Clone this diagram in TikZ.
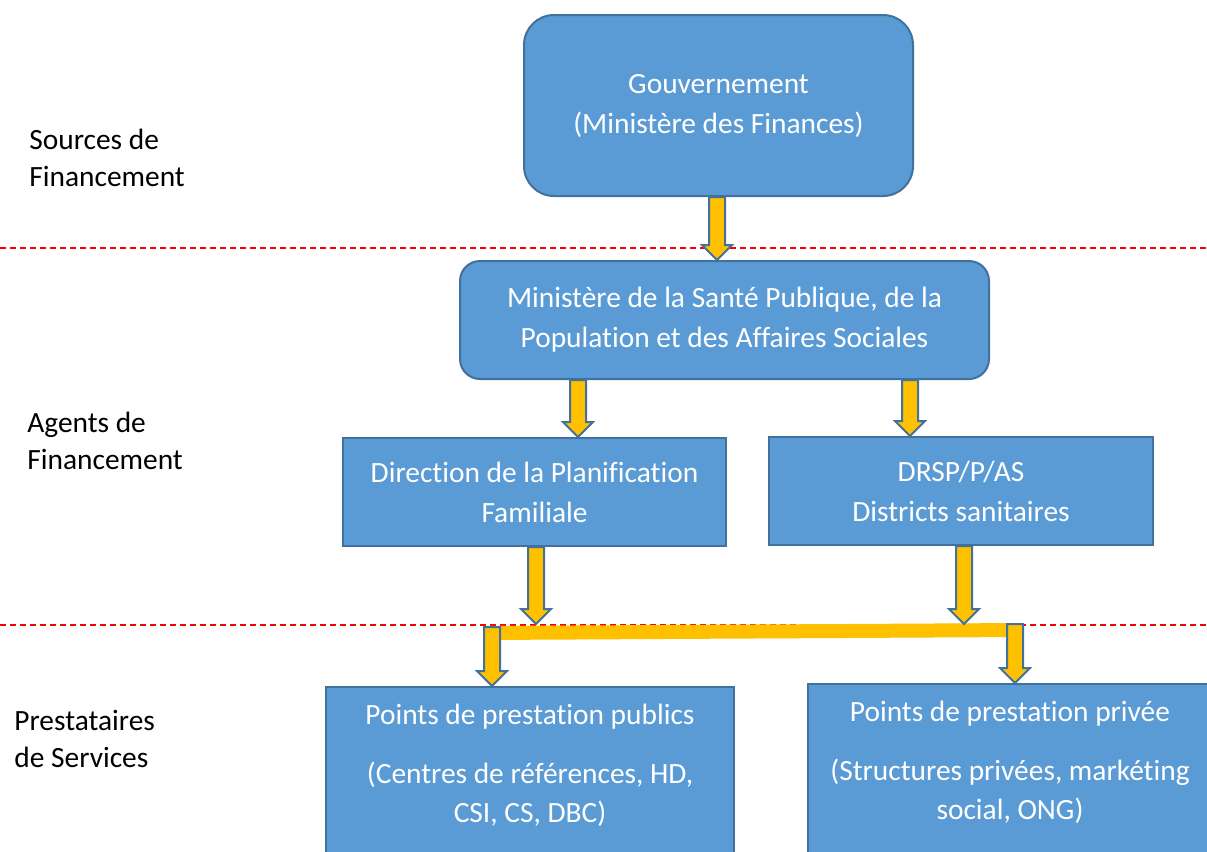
\documentclass[tikz,border=0pt]{standalone}
\usepackage{fontspec}
\setmainfont{Carlito}[Ligatures=NoCommon]
\usetikzlibrary{calc}

\definecolor{boxblue}{HTML}{5B9BD5}
\definecolor{boxline}{HTML}{41719C}
\definecolor{flowgold}{HTML}{FFC000}

% block arrow pointing down, from #1 to #2
\newcommand{\flowarrow}[2]{%
  \path[flow] let \p1=(#1), \p2=(#2) in
    (\x1-4pt,\y1) -- (\x1-4pt,\y2+7.5pt) -- (\x1-7.5pt,\y2+7.5pt) -- (\x2,\y2)
    -- (\x1+7.5pt,\y2+7.5pt) -- (\x1+4pt,\y2+7.5pt) -- (\x1+4pt,\y1) -- cycle;}

\tikzset{
  box/.style={draw=boxline,fill=boxblue,line width=1pt,text=white,align=center,
    inner sep=0pt,font=\fontsize{14.7}{20}\selectfont},
  roundbox/.style={box,rounded corners=#1},
  boxtext/.style={text=white,align=center,inner sep=0pt,font=\fontsize{14.7}{19.5}\selectfont},
  lbl/.style={align=left,inner sep=0pt,anchor=west,font=\fontsize{14.7}{18.5}\selectfont},
  flow/.style={draw=boxline,fill=flowgold,line width=1pt,line join=miter},
  bar/.style={draw=flowgold,line width=7pt},
  sep/.style={draw=red,line width=0.6pt,dash pattern=on 3pt off 2pt}
}

\begin{document}
\begin{tikzpicture}[x=0.5pt,y=-0.5pt]
  \clip (0,0) rectangle (1207,852);
  \fill[white] (0,0) rectangle (1207,852);

  % separators
  \draw[sep] (0,248) -- (1207,248);
  \draw[sep] (0,625) -- (1207,625);

  % level labels
  \node[lbl] (src) at (29,158) {Sources de\\Financement};
  \node[lbl] (agt) at (27,441) {Agents de\\Financement};
  \node[lbl] (prs) at (14,739) {Prestataires\\de Services};

  % boxes
  \node[roundbox=15pt,minimum width=194.5pt,minimum height=90.5pt] (gov) at (718.5,105.5)
    {Gouvernement\\(Ministère des Finances)};
  \node[roundbox=10pt,minimum width=264.5pt,minimum height=59pt] (msp) at (724.5,320)
    {Ministère de la Santé Publique, de la\\Population et des Affaires Sociales};
  \node[box,minimum width=191.5pt,minimum height=54pt] (dpf) at (534.5,492)
    {Direction de la Planification\\Familiale};
  \node[box,minimum width=192pt,minimum height=54pt] (drsp) at (961,491)
    {DRSP/P/AS\\Districts sanitaires};
  \node[box,minimum width=204pt,minimum height=100pt,anchor=north] (pub) at (530,686) {};
  \node[box,minimum width=202pt,minimum height=100pt,anchor=north] (priv) at (1010,683) {};
  \node[boxtext,anchor=north] (pubtxt) at ([yshift=-9pt]pub.north)
    {Points de prestation publics\\[10pt](Centres de références, HD,\\CSI, CS, DBC)};
  \node[boxtext,anchor=north] (privtxt) at ([yshift=-9pt]priv.north)
    {Points de prestation privée\\[10pt](Structures privées, markéting\\social, ONG)};

  % junction bar
  \coordinate (j1) at (492,633);
  \coordinate (j2) at (1015,630);
  \draw[bar] ([xshift=-4pt]j1) -- ([xshift=4pt]j2);

  % arrows
  \coordinate (a1) at (717,0);
  \coordinate (a2) at (578,0);
  \coordinate (a3) at (910,0);
  \coordinate (a4) at (536,624);
  \coordinate (a5) at (964,624);
  \flowarrow{gov.south -| a1}{msp.north -| a1}
  \flowarrow{msp.south -| a2}{dpf.north -| a2}
  \flowarrow{msp.south -| a3}{drsp.north -| a3}
  \flowarrow{dpf.south -| a4}{a4}
  \flowarrow{drsp.south -| a5}{a5}
  \flowarrow{[yshift=3pt]j1}{pub.north -| j1}
  \flowarrow{[yshift=3pt]j2}{priv.north -| j2}
\end{tikzpicture}
\end{document}
